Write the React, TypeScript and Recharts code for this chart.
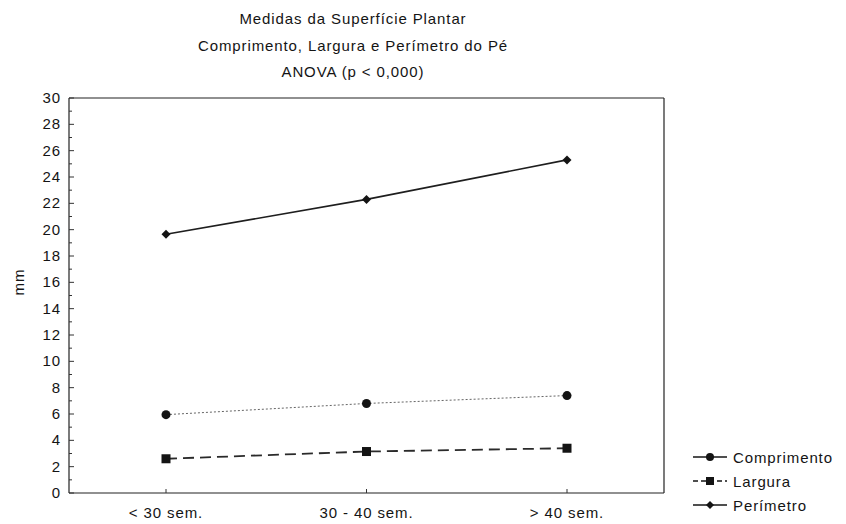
import React from 'react';
import { LineChart, Line, XAxis, YAxis, Legend, ReferenceLine } from 'recharts';

const categories = ['< 30 sem.', '30 - 40 sem.', '> 40 sem.'];
const comprimento = [5.95, 6.8, 7.4];
const largura = [2.6, 3.15, 3.4];
const perimetro = [19.65, 22.3, 25.3];
const yTicks = [0, 1, 2, 3, 4, 5, 6, 7, 8, 9, 10, 11, 12, 13, 14, 15, 16, 17, 18, 19, 20, 21, 22, 23, 24, 25, 26, 27, 28, 29, 30];
const titleLines = ['Medidas da Superfície Plantar', 'Comprimento, Largura e Perímetro do Pé', 'ANOVA (p < 0,000)'];

const data = categories.map((c, i) => ({
  cat: c,
  comprimento: comprimento[i],
  largura: largura[i],
  perimetro: perimetro[i],
}));

const FONT = '"Liberation Sans", Arial, sans-serif';
const INK = '#141414';
const txt = { fontFamily: FONT, fontSize: 15, letterSpacing: '0.9px', fill: INK };

const LeftTick = ({ x, y, payload }: any) => {
  const major = payload.value % 2 === 0;
  const ax = x + 8;
  return (
    <g>
      <line x1={ax} x2={ax + (major ? 5 : 3)} y1={y} y2={y} stroke="#333" strokeWidth={1} />
      {major && (
        <text x={x} y={y} dy={5} textAnchor="end" style={txt}>
          {payload.value}
        </text>
      )}
    </g>
  );
};

const RightTick = ({ x, y, payload }: any) => {
  const major = payload.value % 2 === 0;
  return <line x1={x} x2={x - (major ? 5 : 3)} y1={y} y2={y} stroke="#333" strokeWidth={1} />;
};

const BottomTick = ({ x, y, payload }: any) => (
  <g>
    <line x1={x} x2={x} y1={y} y2={y - 4} stroke="#333" strokeWidth={1} />
    <text x={x} y={y + 25} textAnchor="middle" style={txt}>
      {payload.value}
    </text>
  </g>
);

const Diamond = ({ cx, cy, size }: any) =>
  cx == null ? null : (
    <polygon
      points={`${cx},${cy - size} ${cx + size},${cy} ${cx},${cy + size} ${cx - size},${cy}`}
      fill={INK}
    />
  );

const Square = ({ cx, cy, size }: any) =>
  cx == null ? null : <rect x={cx - size / 2} y={cy - size / 2} width={size} height={size} fill={INK} />;

const Circle = ({ cx, cy, rad }: any) => (cx == null ? null : <circle cx={cx} cy={cy} r={rad} fill={INK} />);

const legendStyle: Record<string, { dash?: string; marker: 'circle' | 'square' | 'diamond' }> = {
  comprimento: { marker: 'circle' },
  largura: { dash: '5 3', marker: 'square' },
  perimetro: { marker: 'diamond' },
};

const LegendContent = ({ payload }: any) => (
  <div>
    {(payload || []).map((p: any) => {
      const s = legendStyle[p.dataKey];
      return (
        <div key={p.dataKey} style={{ display: 'flex', alignItems: 'center', height: 24 }}>
          <svg width={44} height={14}>
            <line x1={4} x2={38} y1={7} y2={7} stroke={INK} strokeWidth={1.6} strokeDasharray={s.dash} />
            {s.marker === 'circle' && <Circle cx={21} cy={7} rad={4} />}
            {s.marker === 'square' && <Square cx={21} cy={7} size={8} />}
            {s.marker === 'diamond' && <Diamond cx={21} cy={7} size={4} />}
          </svg>
          <span style={{ fontFamily: FONT, fontSize: 15, letterSpacing: '0.9px', color: INK }}>{p.value}</span>
        </div>
      );
    })}
  </div>
);

export default function App() {
  return (
    <div style={{ position: 'absolute', left: 0, top: 0, width: 846, height: 524, background: '#fff' }}>
      <div style={{ position: 'absolute', left: 153, top: 6, width: 400, textAlign: 'center' }}>
        {titleLines.map((t) => (
          <div
            key={t}
            style={{ fontFamily: FONT, fontSize: 15, letterSpacing: '0.9px', color: INK, height: 26.5, lineHeight: '26px' }}
          >
            {t}
          </div>
        ))}
      </div>
      <LineChart width={846} height={524} data={data} margin={{ top: 98, right: 172, bottom: 0, left: 0 }}>
        <XAxis
          dataKey="cat"
          type="category"
          scale="point"
          padding={{ left: 97, right: 97 }}
          height={31}
          axisLine={{ stroke: '#222', strokeWidth: 1.2 }}
          tickLine={false}
          tickSize={0}
          tickMargin={0}
          interval={0}
          tick={<BottomTick />}
        />
        <YAxis
          yAxisId="l"
          domain={[0, 30]}
          ticks={yTicks}
          interval={0}
          width={69}
          axisLine={{ stroke: '#222', strokeWidth: 1.2 }}
          tickLine={false}
          tickSize={0}
          tickMargin={8}
          tick={<LeftTick />}
          label={{ value: 'mm', angle: -90, position: 'insideLeft', dx: 14, style: txt }}
        />
        <YAxis
          yAxisId="r"
          orientation="right"
          domain={[0, 30]}
          ticks={yTicks}
          interval={0}
          width={10}
          axisLine={{ stroke: '#222', strokeWidth: 1.2 }}
          tickLine={false}
          tickSize={0}
          tickMargin={0}
          tick={<RightTick />}
        />
        <ReferenceLine yAxisId="l" y={30} stroke="#222" strokeWidth={1.2} />
        <Legend
          layout="vertical"
          align="center"
          verticalAlign="middle"
          content={<LegendContent />}
          wrapperStyle={{ position: 'absolute', left: 689, top: 445, width: 157, bottom: 'auto', right: 'auto' }}
        />
        <Line
          yAxisId="l"
          dataKey="comprimento"
          name="Comprimento"
          stroke="#666"
          strokeWidth={1}
          strokeDasharray="2 2"
          dot={(p: any) => <Circle key={`c${p.index}`} cx={p.cx} cy={p.cy} rad={4.5} />}
          isAnimationActive={false}
        />
        <Line
          yAxisId="l"
          dataKey="largura"
          name="Largura"
          stroke="#2a2a2a"
          strokeWidth={1.8}
          strokeDasharray="11 6"
          dot={(p: any) => <Square key={`s${p.index}`} cx={p.cx} cy={p.cy} size={9} />}
          isAnimationActive={false}
        />
        <Line
          yAxisId="l"
          dataKey="perimetro"
          name="Perímetro"
          stroke="#1e1e1e"
          strokeWidth={1.6}
          dot={(p: any) => <Diamond key={`d${p.index}`} cx={p.cx} cy={p.cy} size={4.5} />}
          isAnimationActive={false}
        />
      </LineChart>
    </div>
  );
}
